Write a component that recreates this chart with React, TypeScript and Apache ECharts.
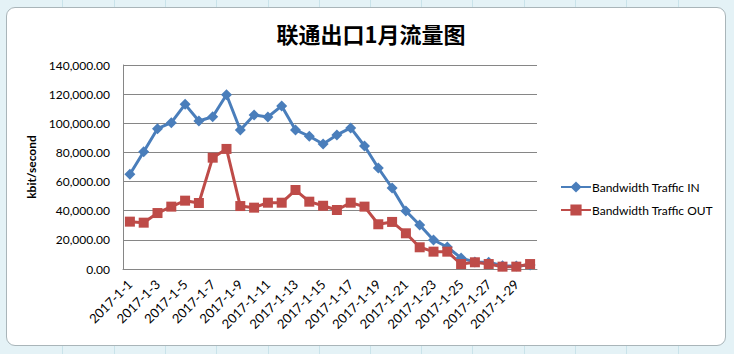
import React, { useEffect, useRef } from "react";
import * as echarts from "echarts";

const titleText = "联通出口1月流量图";
const yAxisName = "kbit/second";
const categories: string[] = Array.from({ length: 30 }, (_, i) => `2017-1-${i + 1}`);
const seriesInName = "Bandwidth Traffic IN";
const seriesOutName = "Bandwidth Traffic OUT";
const trafficIn = [
  65000, 80500, 96300, 100400, 113000, 101600, 104500, 119600, 95400, 105700,
  104300, 111900, 95400, 91100, 85800, 92000, 96800, 84400, 69300, 55600,
  39800, 30200, 19900, 15100, 7500, 4800, 4600, 2200, 2000, 2800,
];
const trafficOut = [
  32500, 31800, 38400, 42800, 46900, 45300, 76400, 82400, 43200, 42100,
  45500, 45500, 54200, 46200, 43400, 40500, 45500, 42800, 30700, 32300,
  24500, 14900, 11900, 11900, 3400, 4600, 3400, 1600, 1600, 3400,
];

export default function App() {
  const ref = useRef<HTMLDivElement>(null);
  useEffect(() => {
    if (!ref.current) return;
    const chart = echarts.init(ref.current, undefined, { renderer: "svg" });
    const fmt = (v: number) =>
      v.toLocaleString("en-US", { minimumFractionDigits: 2, maximumFractionDigits: 2 });
    chart.setOption({
      animation: false,
      backgroundColor: "transparent",
      title: {
        text: titleText,
        left: 366,
        top: 17,
        textAlign: "center",
        textStyle: {
          fontFamily: "Noto Sans CJK SC",
          fontWeight: "bold",
          fontSize: 22,
          color: "#000",
        },
      },
      legend: {
        orient: "vertical",
        left: 555,
        top: 176,
        itemGap: 11,
        itemWidth: 30,
        itemHeight: 14,
        textStyle: { fontFamily: "Lato", fontSize: 12, color: "#000", padding: [0, 0, 0, -4] },
        data: [seriesInName, seriesOutName],
      },
      grid: { left: 123, right: 197, top: 65, bottom: 85, containLabel: false },
      xAxis: {
        type: "category",
        data: categories,
        boundaryGap: true,
        axisLine: { lineStyle: { color: "#868686", width: 1 } },
        axisTick: { show: false },
        axisLabel: {
          interval: 1,
          rotate: 45,
          fontFamily: "Lato",
          fontSize: 13,
          color: "#000",
          margin: 13,
        },
      },
      yAxis: {
        type: "value",
        min: 0,
        max: 140000,
        interval: 20000,
        name: yAxisName,
        nameLocation: "middle",
        nameGap: 84,
        nameTextStyle: { fontFamily: "Lato", fontWeight: "bold", fontSize: 12, color: "#000" },
        axisLine: { show: true, lineStyle: { color: "#868686", width: 1 } },
        axisTick: { show: false },
        splitLine: { lineStyle: { color: "#868686", width: 1 } },
        axisLabel: {
          formatter: fmt,
          fontFamily: "Lato",
          fontSize: 12,
          color: "#000",
          margin: 13,
        },
      },
      series: [
        {
          name: seriesInName,
          type: "line",
          data: trafficIn,
          color: "#4a7ebb",
          showAllSymbol: true,
          lineStyle: { width: 3, color: "#4a7ebb" },
          symbol: "diamond",
          symbolSize: 11,
          itemStyle: { color: "#4a7ebb" },
        },
        {
          name: seriesOutName,
          type: "line",
          data: trafficOut,
          color: "#be4b48",
          showAllSymbol: true,
          lineStyle: { width: 3, color: "#be4b48" },
          symbol: "rect",
          symbolSize: 10,
          itemStyle: { color: "#be4b48" },
        },
      ],
    });
    return () => chart.dispose();
  }, []);

  const cellLines = [62, 114, 165, 216, 268, 319, 370, 421, 472, 524, 575, 626, 678];
  return (
    <div
      style={{
        position: "fixed",
        left: 0,
        top: 0,
        width: 734,
        height: 354,
        background: "#e4f2f6",
        overflow: "hidden",
      }}
    >
      {cellLines.map((x) => (
        <div
          key={x}
          style={{ position: "absolute", left: x, top: 0, width: 1, height: 354, background: "#c9e3ea" }}
        />
      ))}
      <div
        style={{
          position: "absolute",
          left: 6,
          top: 7,
          width: 720,
          height: 339,
          background: "#fff",
          border: "1px solid #a9b5b9",
          borderRadius: 9,
          boxSizing: "border-box",
        }}
      />
      <div ref={ref} style={{ position: "absolute", left: 0, top: 0, width: 734, height: 354 }} />
    </div>
  );
}
